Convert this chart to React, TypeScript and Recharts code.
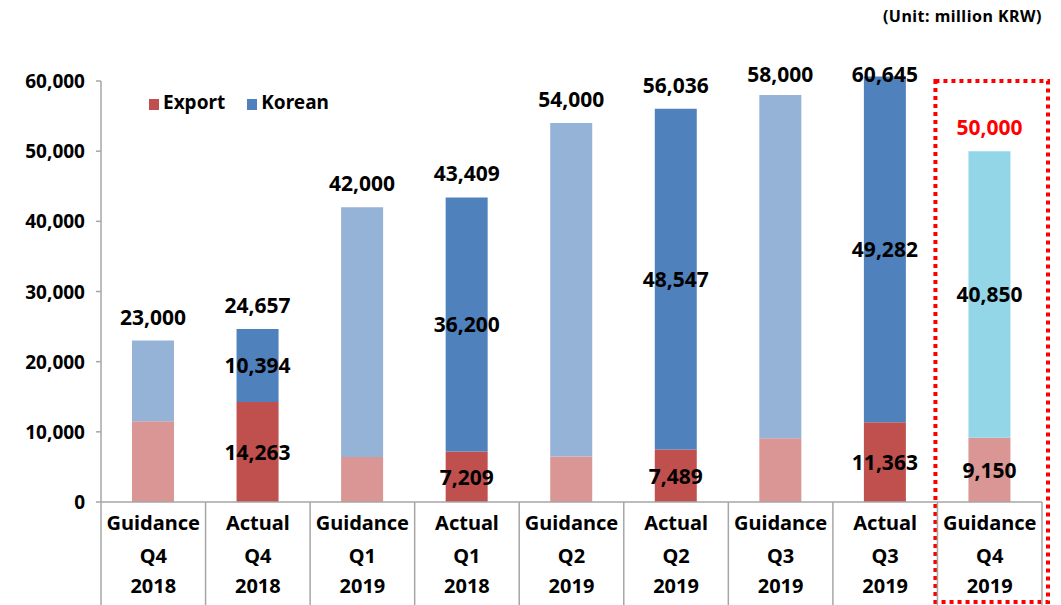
import { BarChart, Bar, XAxis, YAxis, Cell, LabelList, Legend, ReferenceArea } from 'recharts';

const kinds = ['Guidance', 'Actual', 'Guidance', 'Actual', 'Guidance', 'Actual', 'Guidance', 'Actual', 'Guidance'];
const quarters = ['Q4', 'Q4', 'Q1', 'Q1', 'Q2', 'Q2', 'Q3', 'Q3', 'Q4'];
const years = ['2018', '2018', '2019', '2018', '2019', '2019', '2019', '2019', '2019'];
const exportSales = [11500, 14263, 6400, 7209, 6500, 7489, 9100, 11363, 9150];
const koreanSales = [11500, 10394, 35600, 36200, 47500, 48547, 48900, 49282, 40850];
const yTicks = [0, 10000, 20000, 30000, 40000, 50000, 60000];
const HIGHLIGHT = 8;

const data = kinds.map((k, i) => ({
  cat: `${k} ${quarters[i]} ${years[i]}`,
  kind: k,
  quarter: quarters[i],
  year: years[i],
  export: exportSales[i],
  korean: koreanSales[i],
}));

const W = 1061;
const H = 605;
const XAXIS_H = 103;
const PLOT_BOTTOM = H - XAXIS_H;
const FONT = '"Noto Sans", "DejaVu Sans", sans-serif';
const AXIS = '#A6A6A6';

const colors = {
  exportGuide: '#D99694',
  exportActual: '#C0504D',
  koreanGuide: '#95B3D7',
  koreanActual: '#4F81BD',
  koreanNext: '#93D6E8',
};

const fmt = (v: number) => v.toLocaleString('en-US');
const showInner = (i: number) => kinds[i] === 'Actual' || i === HIGHLIGHT;

const InnerLabel = (props: any) => {
  const vb = props.viewBox ?? props;
  const i = props.index;
  if (i == null || !showInner(i)) return null;
  return (
    <text
      x={vb.x + vb.width / 2}
      y={vb.y + vb.height / 2}
      textAnchor="middle"
      dominantBaseline="central"
      fontFamily={FONT}
      fontWeight={700}
      fontSize={21}
      fill="#000"
    >
      {fmt(props.value)}
    </text>
  );
};

const TotalLabel = (props: any) => {
  const vb = props.viewBox ?? props;
  const i = props.index;
  const cy = Math.max(vb.y - 24, 74);
  return (
    <text
      x={vb.x + vb.width / 2}
      y={cy}
      textAnchor="middle"
      dominantBaseline="central"
      fontFamily={FONT}
      fontWeight={700}
      fontSize={21}
      fill={i === HIGHLIGHT ? '#FF0000' : '#000'}
    >
      {fmt(props.value)}
    </text>
  );
};

const XTick = (props: any) => {
  const { x, y, payload, index } = props;
  const half = payload.offset ?? 0;
  const d = data[index] ?? data.find((e) => e.cat === payload.value);
  const t = { fontFamily: FONT, fontWeight: 700, fontSize: 20, fill: '#000', textAnchor: 'middle' as const, dominantBaseline: 'central' as const };
  return (
    <g>
      <line x1={x - half} x2={x - half} y1={y} y2={H} stroke={AXIS} strokeWidth={1.5} />
      {index === data.length - 1 && (
        <line x1={x + half} x2={x + half} y1={y} y2={H} stroke={AXIS} strokeWidth={1.5} />
      )}
      <text x={x} y={y + 20} {...t}>{d.kind}</text>
      <text x={x} y={y + 53} {...t}>{d.quarter}</text>
      <text x={x} y={y + 83} {...t}>{d.year}</text>
    </g>
  );
};

const YTick = (props: any) => {
  const { x, y, payload } = props;
  return (
    <g>
      {payload.value === yTicks[yTicks.length - 1] && (
        <line x1={x} x2={x} y1={y} y2={PLOT_BOTTOM} stroke={AXIS} strokeWidth={1.5} />
      )}
      <line x1={x - 5} x2={x} y1={y} y2={y} stroke={AXIS} strokeWidth={1.5} />
      <text
        x={x - 16}
        y={y}
        textAnchor="end"
        dominantBaseline="central"
        fontFamily={FONT}
        fontWeight={700}
        fontSize={19}
        fill="#000"
      >
        {fmt(payload.value)}
      </text>
    </g>
  );
};

const LegendContent = (props: any) => (
  <div style={{ display: 'flex', gap: 22, fontFamily: FONT, fontWeight: 700, fontSize: 19 }}>
    {(props.payload ?? []).map((p: any) => (
      <div key={p.value} style={{ display: 'flex', alignItems: 'center', gap: 4 }}>
        <span style={{ width: 10, height: 11, marginTop: 4, background: p.color, display: 'inline-block' }} />
        <span>{p.value}</span>
      </div>
    ))}
  </div>
);

const HighlightBox = (props: any) => (
  <rect
    x={props.x - 2}
    y={props.y}
    width={props.width + 8}
    height={H - 3 - props.y}
    fill="none"
    stroke="#FF0000"
    strokeWidth={4}
    strokeDasharray="4 4"
  />
);

export default function App() {
  return (
    <div style={{ position: 'absolute', left: 0, top: 0, width: W, height: H, background: '#fff' }}>
      <div
        style={{
          position: 'absolute',
          right: 19,
          top: 5,
          fontFamily: FONT,
          fontWeight: 700,
          fontSize: 16,
          letterSpacing: 0.5,
          color: '#000',
        }}
      >
        (Unit: million KRW)
      </div>
      <BarChart width={W} height={H} data={data} margin={{ top: 74, right: 19, left: 0, bottom: 0 }}>
        <XAxis
          dataKey="cat"
          height={XAXIS_H}
          interval={0}
          tickLine={false}
          tickSize={0}
          tickMargin={0}
          axisLine={{ stroke: AXIS, strokeWidth: 1.5 }}
          tick={<XTick />}
        />
        <YAxis
          width={101}
          domain={[0, 61000]}
          ticks={yTicks}
          interval={0}
          axisLine={false}
          tickLine={false}
          tickSize={0}
          tickMargin={0}
          tick={<YTick />}
        />
        <Legend
          layout="horizontal"
          verticalAlign="middle"
          align="center"
          wrapperStyle={{ position: 'absolute', left: 149, top: 89, width: 'auto' }}
          content={<LegendContent />}
        />
        <ReferenceArea
          x1={data[HIGHLIGHT].cat}
          x2={data[HIGHLIGHT].cat}
          y1={0}
          y2={60000}
          ifOverflow="visible"
          shape={<HighlightBox />}
        />
        <Bar dataKey="export" name="Export" stackId="a" barSize={42} fill={colors.exportActual} isAnimationActive={false}>
          {data.map((d, i) => (
            <Cell key={i} fill={d.kind === 'Actual' ? colors.exportActual : colors.exportGuide} />
          ))}
          <LabelList dataKey="export" content={<InnerLabel />} />
        </Bar>
        <Bar dataKey="korean" name="Korean" stackId="a" barSize={42} fill={colors.koreanActual} isAnimationActive={false}>
          {data.map((d, i) => (
            <Cell
              key={i}
              fill={i === HIGHLIGHT ? colors.koreanNext : d.kind === 'Actual' ? colors.koreanActual : colors.koreanGuide}
            />
          ))}
          <LabelList dataKey="korean" content={<InnerLabel />} />
          <LabelList dataKey={(d: any) => d.export + d.korean} content={<TotalLabel />} />
        </Bar>
      </BarChart>
    </div>
  );
}
